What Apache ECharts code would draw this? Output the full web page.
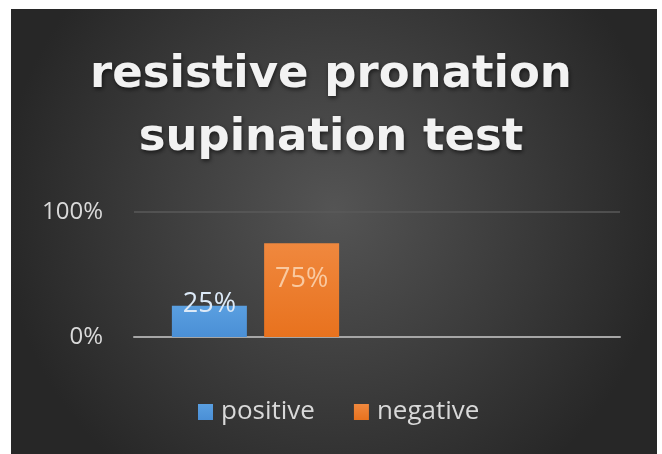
<!DOCTYPE html>
<html>
<head>
<meta charset="utf-8">
<script src="https://cdn.jsdelivr.net/npm/echarts@6/dist/echarts.min.js"></script>
<style>
  html, body { margin: 0; padding: 0; background: #ffffff; }
  #chart { width: 662px; height: 454px; }
</style>
</head>
<body>
<div id="chart"></div>
<script>
const titleText = 'resistive pronation\nsupination test';
const categories = ['', ''];
const seriesNames = ['positive', 'negative'];
const positiveValues = [25, null];
const negativeValues = [75, null];
const yTicks = [0, 100];

const chart = echarts.init(document.getElementById('chart'), null, { renderer: 'canvas' });

const option = {
  backgroundColor: '#ffffff',
  animation: false,
  graphic: [{
    type: 'rect',
    z: -10,
    silent: true,
    shape: { x: 11, y: 9, width: 646, height: 445 },
    style: {
      fill: {
        type: 'radial', x: 0.5, y: 0.45, r: 0.75,
        colorStops: [
          { offset: 0, color: '#545454' },
          { offset: 1, color: '#272727' }
        ]
      }
    }
  }],
  title: {
    text: titleText,
    left: 'center',
    top: 39,
    textStyle: {
      fontFamily: 'DejaVu Sans',
      fontWeight: 'bold',
      fontSize: 45,
      lineHeight: 63,
      color: '#f2f2f2',
      textShadowColor: 'rgba(0,0,0,0.6)',
      textShadowBlur: 4,
      textShadowOffsetX: 1,
      textShadowOffsetY: 2
    }
  },
  legend: {
    data: seriesNames,
    left: 198,
    top: 399,
    padding: 0,
    icon: 'rect',
    itemWidth: 15,
    itemHeight: 16,
    itemGap: 39,
    textStyle: {
      fontFamily: 'Open Sans',
      fontSize: 26,
      color: '#d9d9d9',
      padding: [0, 0, 0, 3]
    }
  },
  grid: { left: 134, right: 42, top: 212, bottom: 117, containLabel: false },
  xAxis: {
    type: 'category',
    data: categories,
    axisLine: { show: true, lineStyle: { color: '#a6a6a6', width: 2 } },
    axisTick: { show: false },
    axisLabel: { show: false },
    splitLine: { show: false }
  },
  yAxis: {
    type: 'value',
    min: yTicks[0],
    max: yTicks[yTicks.length - 1],
    interval: yTicks[1] - yTicks[0],
    axisLine: { show: false },
    axisTick: { show: false },
    axisLabel: {
      formatter: v => v + '%',
      fontFamily: 'Open Sans',
      fontSize: 24,
      color: '#d9d9d9',
      margin: 31
    },
    splitLine: { lineStyle: { color: '#5a5a5a', width: 1.5 } }
  },
  series: [
    {
      name: seriesNames[0],
      type: 'bar',
      data: positiveValues,
      barWidth: 75,
      barGap: '23%',
      itemStyle: {
        color: {
          type: 'linear', x: 0, y: 0, x2: 0, y2: 1,
          colorStops: [{ offset: 0, color: '#5a9fe0' }, { offset: 1, color: '#4a8fd6' }]
        }
      },
      label: {
        show: true,
        position: 'insideTop',
        offset: [0, -20],
        formatter: p => p.value + '%',
        fontFamily: 'Open Sans',
        fontSize: 27,
        color: '#dce9f7'
      }
    },
    {
      name: seriesNames[1],
      type: 'bar',
      data: negativeValues,
      barWidth: 75,
      itemStyle: {
        color: {
          type: 'linear', x: 0, y: 0, x2: 0, y2: 1,
          colorStops: [{ offset: 0, color: '#f0883e' }, { offset: 1, color: '#e8721e' }]
        }
      },
      label: {
        show: true,
        position: 'insideTop',
        offset: [0, 18],
        formatter: p => p.value + '%',
        fontFamily: 'Open Sans',
        fontSize: 27,
        color: '#f9c9a0'
      }
    }
  ]
};

chart.setOption(option);
</script>
</body>
</html>
